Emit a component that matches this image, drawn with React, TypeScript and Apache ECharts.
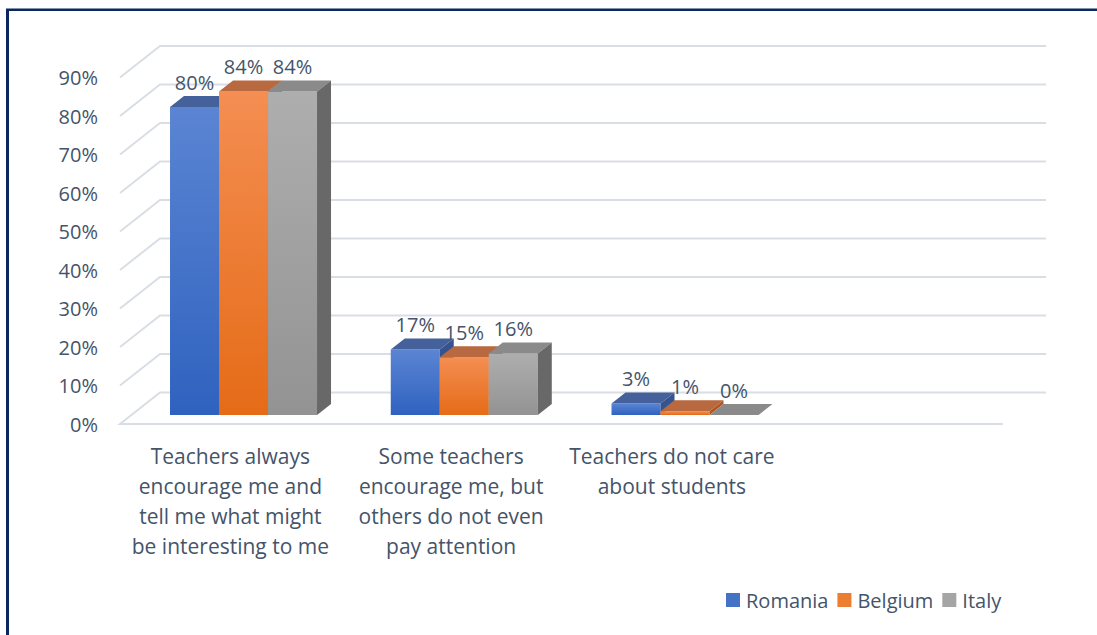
import React, { useEffect, useRef } from "react";
import * as echarts from "echarts";

const categories = [
  "Teachers always\nencourage me and\ntell me what might\nbe interesting to me",
  "Some teachers\nencourage me, but\nothers do not even\npay attention",
  "Teachers do not care\nabout students",
  "",
];
const seriesNames = ["Romania", "Belgium", "Italy"];
const romania = [0.8, 0.17, 0.03];
const belgium = [0.84, 0.15, 0.01];
const italy = [0.84, 0.16, 0.0];
const yTicks = [0, 0.1, 0.2, 0.3, 0.4, 0.5, 0.6, 0.7, 0.8, 0.9];

const TEXT = "#44546A";
const FONT = "Open Sans";

// depth vectors (px)
const WALL_DX = 40;
const WALL_DY = -31.5;
const BAR_DX1 = 11.6;
const BAR_DY1 = -9;
const BAR_BX = 14;
const BAR_BY = -11;
const GROUP_START = 0.174;
const BAR_W = 0.222;

const palettes = [
  { ft: "#5B85D3", fb: "#2F62BF", top: "#44619C", side: "#35538F", legend: "#4472C4" },
  { ft: "#F48E52", fb: "#E56B17", top: "#B9693F", side: "#B0561F", legend: "#ED7D31" },
  { ft: "#AEAEAE", fb: "#939393", top: "#8A8A8A", side: "#686868", legend: "#A5A5A5" },
];

function barRender(sIdx: number) {
  const pal = palettes[sIdx];
  return (params: any, api: any) => {
    const cat = api.value(0);
    const v = api.value(1);
    const base = api.coord([cat, 0]);
    const topP = api.coord([cat, v]);
    const band = api.size([1, 0])[0];
    const x0 = base[0] - band / 2 + GROUP_START * band + sIdx * BAR_W * band + BAR_DX1;
    const x1 = x0 + BAR_W * band;
    const yb = base[1] + BAR_DY1;
    const yt = topP[1] + BAR_DY1;
    return {
      type: "group",
      children: [
        {
          type: "rect",
          shape: { x: x0, y: yt, width: x1 - x0, height: yb - yt },
          style: {
            fill: new echarts.graphic.LinearGradient(0, 0, 0, 1, [
              { offset: 0, color: pal.ft },
              { offset: 1, color: pal.fb },
            ]),
          },
        },
        {
          type: "polygon",
          shape: {
            points: [
              [x0, yt],
              [x1, yt],
              [x1 + BAR_BX, yt + BAR_BY],
              [x0 + BAR_BX, yt + BAR_BY],
            ],
          },
          style: { fill: pal.top },
        },
        {
          type: "polygon",
          shape: {
            points: [
              [x1, yt],
              [x1, yb],
              [x1 + BAR_BX, yb + BAR_BY],
              [x1 + BAR_BX, yt + BAR_BY],
            ],
          },
          style: { fill: pal.side },
        },
        {
          type: "text",
          style: {
            text: Math.round(v * 100) + "%",
            x: (x0 + x1) / 2,
            y: yt - 25,
            align: "center",
            verticalAlign: "middle",
            fill: TEXT,
            fontSize: 20,
            fontFamily: FONT,
          },
        },
      ],
    };
  };
}

function gridRender(params: any, api: any) {
  const v = api.value(1);
  const cs = params.coordSys;
  const left = cs.x;
  const right = cs.x + cs.width;
  const y = api.coord([0, v])[1];
  const pts: number[][] = [];
  if (v === 0) pts.push([right, y]);
  pts.push([left, y], [left + WALL_DX, y + WALL_DY], [right + WALL_DX + 3, y + WALL_DY]);
  return {
    type: "polyline",
    shape: { points: pts },
    style: { stroke: "#D9DEE5", lineWidth: 2, fill: null },
  };
}

export default function App() {
  const ref = useRef<HTMLDivElement>(null);
  useEffect(() => {
    if (!ref.current) return;
    const chart = echarts.init(ref.current, null, { renderer: "svg" });
    const values = [romania, belgium, italy];
    chart.setOption({
      animation: false,
      backgroundColor: "#FFFFFF",
      textStyle: { fontFamily: FONT },
      grid: { left: 120, right: 94, top: 77.5, bottom: 211, containLabel: false },
      xAxis: {
        type: "category",
        data: categories,
        axisLine: { show: false },
        axisTick: { show: false },
        splitLine: { show: false },
        axisLabel: {
          interval: 0,
          margin: 17,
          color: TEXT,
          fontSize: 21,
          lineHeight: 30,
          fontFamily: FONT,
        },
      },
      yAxis: {
        type: "value",
        min: 0,
        max: 0.9,
        interval: 0.1,
        axisLine: { show: false },
        axisTick: { show: false },
        splitLine: { show: false },
        axisLabel: {
          margin: 22,
          color: TEXT,
          fontSize: 20,
          fontFamily: FONT,
          formatter: (val: number) => Math.round(val * 100) + "%",
        },
      },
      legend: {
        left: 726,
        top: 588,
        padding: 0,
        itemGap: 9,
        itemWidth: 14,
        itemHeight: 14,
        icon: "rect",
        selectedMode: false,
        textStyle: { color: TEXT, fontSize: 20, fontFamily: FONT, lineHeight: 24, padding: [0, 0, 0, 1] },
        data: seriesNames.map((n, i) => ({ name: n, itemStyle: { color: palettes[i].legend } })),
      },
      graphic: [
        { type: "line", shape: { x1: 6, y1: 9.8, x2: 1097, y2: 9.8 }, style: { stroke: "#0B2762", lineWidth: 2.5 } },
        { type: "line", shape: { x1: 7.5, y1: 9, x2: 7.5, y2: 635 }, style: { stroke: "#0B2762", lineWidth: 3 } },
      ],
      series: [
        {
          type: "custom",
          name: "grid",
          z: 1,
          silent: true,
          clip: false,
          encode: { x: 0, y: 1 },
          data: yTicks.map((t) => [0, t]),
          renderItem: gridRender,
        },
        ...seriesNames.map((name, i) => ({
          type: "custom",
          name,
          z: 2,
          clip: false,
          itemStyle: { color: palettes[i].legend },
          encode: { x: 0, y: 1 },
          data: values[i].map((v, j) => [j, v]),
          renderItem: barRender(i),
        })),
      ],
    });
    return () => chart.dispose();
  }, []);
  return (
    <div
      ref={ref}
      style={{ position: "absolute", left: 0, top: 0, width: 1097, height: 635 }}
    />
  );
}
